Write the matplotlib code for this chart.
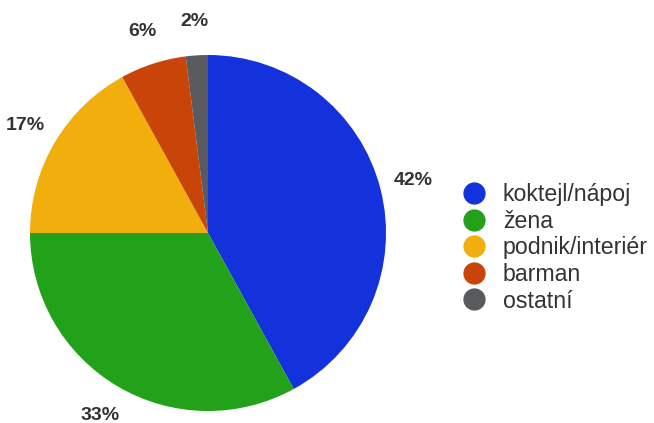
import matplotlib
matplotlib.use("Agg")
import matplotlib.pyplot as plt
from matplotlib.lines import Line2D

categories = ["koktejl/nápoj", "žena", "podnik/interiér", "barman", "ostatní"]
shares = [42, 33, 17, 6, 2]
colors = ["#1432dc", "#22a11a", "#f2ae0c", "#c84408", "#585a5e"]

plt.rcParams["font.family"] = ["Liberation Sans", "DejaVu Sans"]

fig = plt.figure(figsize=(6.54, 4.23), dpi=100)
ax = fig.add_axes([30 / 654, 12 / 423, 356 / 654, 356 / 423])

wedges, texts, autotexts = ax.pie(
    shares,
    colors=colors,
    startangle=90,
    counterclock=False,
    radius=1.0,
    autopct="%d%%",
    pctdistance=1.19,
    wedgeprops=dict(linewidth=0),
    textprops=dict(fontsize=14, fontweight="bold", color="#333333"),
)
ax.set_xlim(-1, 1)
ax.set_ylim(-1, 1)
ax.set_aspect("equal")
ax.axis("off")

handles = [
    Line2D([0], [0], marker="o", linestyle="none", markersize=15,
           markerfacecolor=c, markeredgecolor=c)
    for c in colors
]
fig.legend(
    handles, categories,
    loc="upper left",
    bbox_to_anchor=(462.5 / 654, 1 - 183 / 423),
    frameon=False,
    fontsize=16.7,
    handlelength=1.0,
    handletextpad=0.74,
    labelspacing=0.157,
    borderpad=0,
    borderaxespad=0,
    labelcolor="#333333",
)

fig.savefig("out.png", dpi=100)
